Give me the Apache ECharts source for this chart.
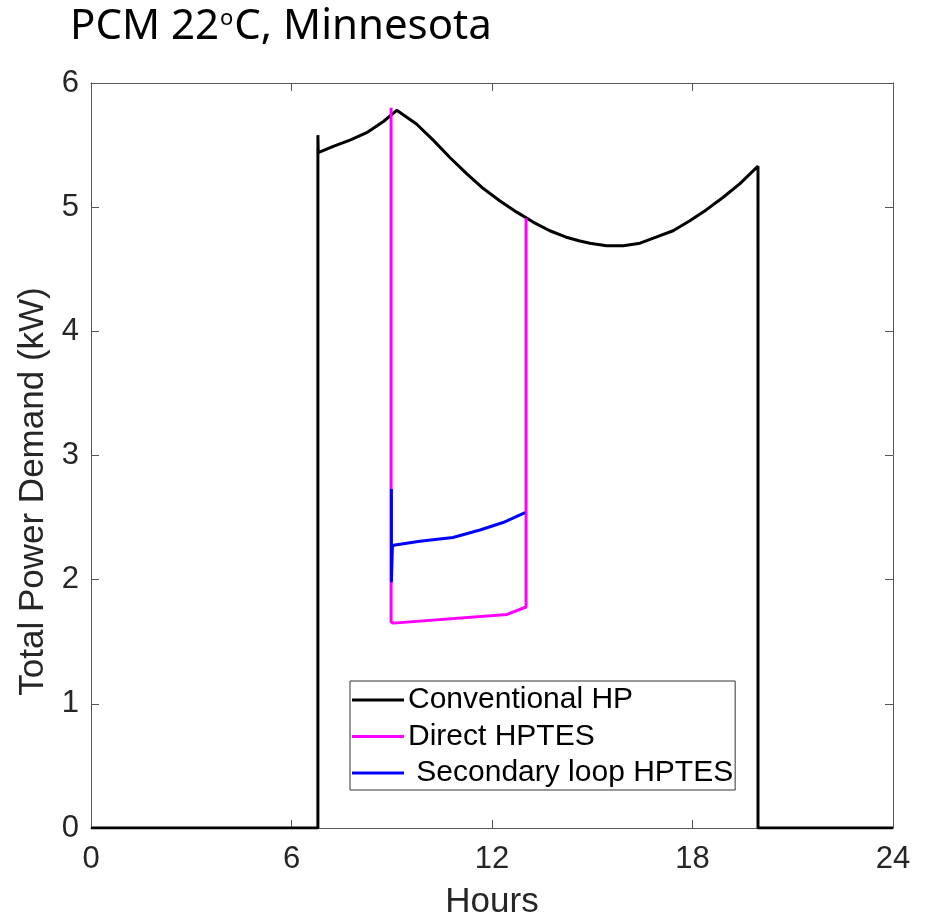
<!DOCTYPE html>
<html>
<head>
<meta charset="utf-8">
<script src="https://cdn.jsdelivr.net/npm/echarts@6/dist/echarts.min.js"></script>
<style>
html,body{margin:0;padding:0;background:#fff;}
#chart{width:929px;height:917px;}
</style>
</head>
<body>
<div id="chart"></div>
<script>
// ---- data ----
const xTicks = [0, 6, 12, 18, 24];
const yTicks = [0, 1, 2, 3, 4, 5, 6];

const hpHours = [0, 6.79, 6.79, 6.80, 7.25, 7.75, 8.25, 8.75, 9.15, 9.74, 10.24, 10.74, 11.24, 11.74, 12.24, 12.74, 13.23, 13.73, 14.20, 14.60, 14.93, 15.43, 15.93, 16.43, 16.93, 17.42, 17.92, 18.42, 18.92, 19.42, 19.96, 19.96, 24];
const hpPower = [0, 0, 5.58, 5.44, 5.49, 5.54, 5.60, 5.69, 5.78, 5.67, 5.54, 5.40, 5.27, 5.15, 5.05, 4.96, 4.88, 4.81, 4.76, 4.73, 4.71, 4.69, 4.69, 4.71, 4.76, 4.81, 4.89, 4.98, 5.08, 5.19, 5.33, 0, 0];

const directHours = [8.98, 8.98, 9.05, 12.45, 13.02, 13.02];
const directPower = [5.80, 1.66, 1.65, 1.72, 1.78, 4.91];

const secHours = [8.99, 8.99, 9.02, 9.10, 9.84, 10.83, 11.64, 12.33, 12.99];
const secPower = [2.73, 1.98, 2.27, 2.28, 2.31, 2.34, 2.40, 2.46, 2.54];

const seriesNames = ['Conventional HP', 'Direct HPTES', ' Secondary loop HPTES'];

function pairs(xs, ys) { return xs.map((x, i) => [x, ys[i]]); }

const textColor = '#262626';
const axisColor = '#555555';
const labelFont = 'Liberation Sans, Arial, sans-serif';

const chart = echarts.init(document.getElementById('chart'), null, {renderer: 'canvas'});

function baseAxis(ticks, extra) {
  return Object.assign({
    type: 'value',
    min: ticks[0],
    max: ticks[ticks.length - 1],
    interval: ticks[1] - ticks[0],
    splitLine: {show: false},
    axisLine: {show: true, onZero: false, lineStyle: {color: axisColor, width: 1}},
    axisTick: {show: true, inside: true, length: 8, lineStyle: {color: axisColor, width: 1}}
  }, extra);
}

chart.setOption({
  animation: false,
  backgroundColor: '#ffffff',
  title: {
    left: 65,
    top: -3,
    text: '{a|PCM 22}{s|o}{a|C, Minnesota}',
    textStyle: {
      rich: {
        a: {fontFamily: 'Noto Sans, sans-serif', fontSize: 42, fontWeight: 'normal', color: '#000', verticalAlign: 'bottom', lineHeight: 46},
        s: {fontFamily: 'Noto Sans, sans-serif', fontSize: 22, fontWeight: 'normal', color: '#000', verticalAlign: 'bottom', lineHeight: 46, padding: [0, 1, 18, 1]}
      }
    }
  },
  grid: {left: 91, right: 36, top: 83, bottom: 89, containLabel: false, outerBoundsMode: 'none'},
  legend: {
    orient: 'vertical',
    left: 350,
    top: 681,
    padding: [4, 2, 2, 2],
    itemGap: 6.5,
    itemWidth: 52,
    itemHeight: 3,
    icon: 'rect',
    backgroundColor: '#fff',
    borderColor: '#333',
    borderWidth: 1,
    borderRadius: 0,
    data: seriesNames,
    textStyle: {fontFamily: labelFont, fontSize: 30, color: '#000', padding: [0, 0, 0, -1], lineHeight: 30}
  },
  xAxis: [
    baseAxis(xTicks, {
      position: 'bottom',
      name: 'Hours',
      nameLocation: 'middle',
      nameGap: 57,
      nameTextStyle: {fontFamily: labelFont, fontSize: 35, color: textColor},
      axisLabel: {margin: 16, fontFamily: labelFont, fontSize: 31, color: textColor}
    }),
    baseAxis(xTicks, {position: 'top', axisLabel: {show: false}})
  ],
  yAxis: [
    baseAxis(yTicks, {
      position: 'left',
      name: 'Total Power Demand (kW)',
      nameLocation: 'middle',
      nameGap: 27,
      nameTextStyle: {fontFamily: labelFont, fontSize: 35, color: textColor, padding: [0, 72, 0, 0]},
      axisLabel: {margin: 12, fontFamily: labelFont, fontSize: 31, color: textColor}
    }),
    baseAxis(yTicks, {position: 'right', axisLabel: {show: false}})
  ],
  series: [
    {
      name: seriesNames[0], type: 'line', data: pairs(hpHours, hpPower),
      symbol: 'none', smooth: false, z: 2,
      lineStyle: {color: '#000000', width: 3}, itemStyle: {color: '#000000'}
    },
    {
      name: seriesNames[1], type: 'line', data: pairs(directHours, directPower),
      symbol: 'none', smooth: false, z: 3,
      lineStyle: {color: '#ff00ff', width: 3}, itemStyle: {color: '#ff00ff'}
    },
    {
      name: seriesNames[2], type: 'line', data: pairs(secHours, secPower),
      symbol: 'none', smooth: false, z: 4,
      lineStyle: {color: '#0000ff', width: 3}, itemStyle: {color: '#0000ff'}
    }
  ]
});
</script>
</body>
</html>
